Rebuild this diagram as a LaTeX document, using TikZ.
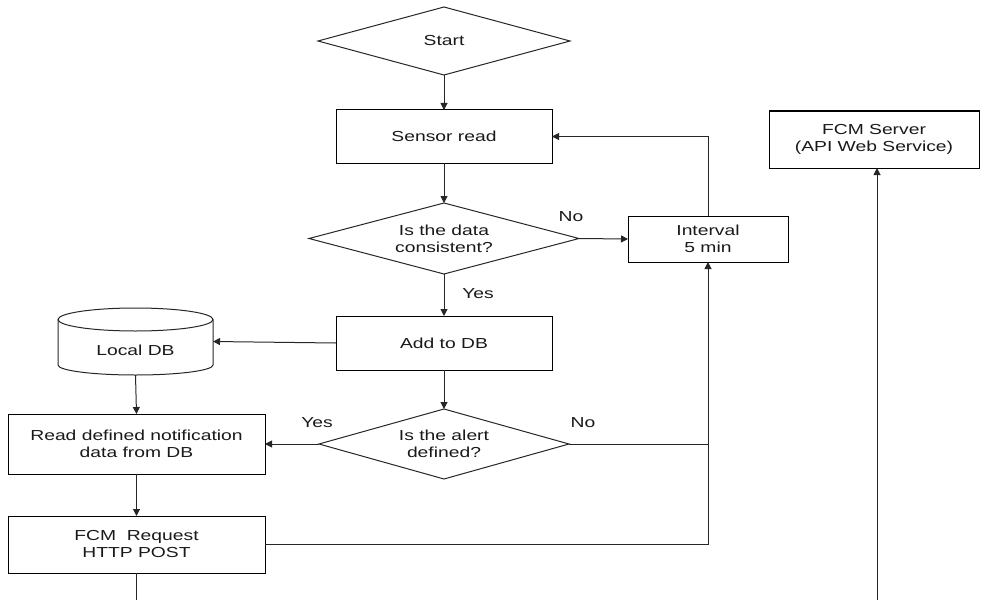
\documentclass[tikz,border=0pt]{standalone}
\usepackage{fontspec}
\setmainfont{Liberation Sans}[FakeStretch=1.33]
\usetikzlibrary{arrows.meta,shapes.geometric}
\begin{document}
\begin{tikzpicture}[x=1pt,y=-1pt,
  every node/.style={inner sep=0pt, outer sep=0pt, align=center, font=\fontsize{14.5}{17}\selectfont, text=black!90},
  boxnode/.style={draw, line width=1pt, minimum width=#1},
  plain/.style={line width=1pt, draw=black!85},
  arr/.style={plain, -{Triangle[length=7pt,width=7pt]}},
  lbl/.style={}
]
\useasboundingbox (0,0) rectangle (981,599);
% nodes
\node (start) [minimum width=252, minimum height=68] at (444,41) {Start};
\draw[plain] (start.west) -- (start.north) -- (start.east) -- (start.south) -- cycle;
\node (sensor) [boxnode=216, minimum height=53] at (444,136.5) {Sensor read};
\node (d1) [minimum width=270, minimum height=71] at (444,238.5) {Is the data\\consistent?};
\draw[plain] (d1.west) -- (d1.north) -- (d1.east) -- (d1.south) -- cycle;
\node (interval) [boxnode=160, minimum height=46] at (708,239) {Interval\\5 min};
\node (add) [boxnode=216, minimum height=54] at (444,343) {Add to DB};
\node (db) [minimum width=155, minimum height=67, label={[yshift=-8.5pt]center:Local DB}] at (135.5,341.5) {};
\draw[plain] (135.5,319.5) ellipse [x radius=77.5pt, y radius=11.5pt];
\draw[plain] (58,319.5) -- (58,365) arc[start angle=180, end angle=360, x radius=77.5pt, y radius=10pt] -- (213,319.5);
\node (readdb) [boxnode=257, minimum height=60] at (136.5,444) {Read defined notification\\data from DB};
\node (d2) [minimum width=250, minimum height=70] at (444,444) {Is the alert\\defined?};
\draw[plain] (d2.west) -- (d2.north) -- (d2.east) -- (d2.south) -- cycle;
\node (fcmreq) [boxnode=257, minimum height=57] at (136.5,544.5) {FCM\ \ Request\\HTTP POST};
\node (server) [boxnode=210, minimum height=57] at (874,139.5) {FCM Server\\(API Web Service)};
% labels
\node (no1) [lbl] at (571,217) {No};
\node (yes1) [lbl] at (478,294) {Yes};
\node (yes2) [lbl] at (317,423) {Yes};
\node (no2) [lbl] at (583,423) {No};
% coordinates
\coordinate (jn) at (708,444);
\coordinate (b1) at (136.5,600);
\coordinate (b2) at (877,600);
% connectors
\draw[arr] (start.south) -- (sensor.north);
\draw[arr] (sensor.south) -- (d1.north);
\draw[arr] (d1.east) -- (interval.west);
\draw[arr] (interval.north) |- (sensor.east);
\draw[arr] (d1.south) -- (add.north);
\draw[arr] (add.west) -- (db.east);
\draw[arr] (db.south) -- (readdb.north);
\draw[arr] (add.south) -- (d2.north);
\draw[arr] (d2.west) -- (readdb.east);
\draw[arr] (d2.east) -| (interval.south);
\draw[arr] (readdb.south) -- (fcmreq.north);
\draw[plain] (fcmreq.east) -| (jn);
\draw[plain] (fcmreq.south) -- (b1) -- (b2);
\draw[arr] (b2) -- (b2 |- server.south);
\end{tikzpicture}
\end{document}
